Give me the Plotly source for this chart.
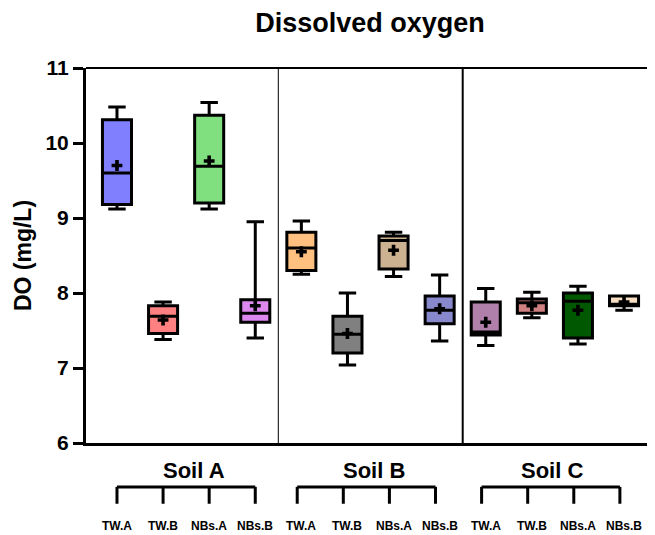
import plotly.graph_objects as go

# data
soils = ["Soil A", "Soil B", "Soil C"]
treatments = ["TW.A", "TW.B", "NBs.A", "NBs.B"]

lower = [9.12, 7.38, 9.12, 7.40, 8.25, 7.04, 8.22, 7.36, 7.30, 7.67, 7.32, 7.77]
q1 = [9.18, 7.46, 9.20, 7.61, 8.30, 7.20, 8.32, 7.59, 7.44, 7.73, 7.40, 7.83]
median = [9.60, 7.69, 9.69, 7.73, 8.60, 7.45, 8.70, 7.77, 7.48, 7.87, 7.89, 7.85]
q3 = [10.31, 7.83, 10.37, 7.91, 8.81, 7.69, 8.76, 7.96, 7.88, 7.92, 8.00, 7.96]
upper = [10.48, 7.88, 10.54, 8.95, 8.96, 8.00, 8.81, 8.24, 8.06, 8.01, 8.09, 7.96]
mean = [9.70, 7.64, 9.76, 7.83, 8.55, 7.46, 8.57, 7.79, 7.61, 7.83, 7.77, 7.88]

colors = ["#8080FF", "#FF8080", "#80E080", "#DD88EE",
          "#FFC080", "#808080", "#CCB290", "#8888CC",
          "#B080AA", "#D08080", "#005800", "#F8DEC2"]

FONT = "Liberation Sans, Arial, sans-serif"
xmin, xmax = -0.672, 11.65
pos = list(range(len(median)))

fig = go.Figure()
for i in pos:
    fig.add_trace(go.Box(
        x=[i], q1=[q1[i]], median=[median[i]], q3=[q3[i]],
        lowerfence=[lower[i]], upperfence=[upper[i]],
        width=0.63, whiskerwidth=0.6, fillcolor=colors[i],
        line=dict(color="black", width=3), boxpoints=False,
        showlegend=False, hoverinfo="skip"))

fig.add_trace(go.Scatter(
    x=pos, y=mean, mode="markers", showlegend=False, hoverinfo="skip",
    marker=dict(symbol="cross", size=9, color="black", line=dict(width=0))))


def px(v):
    return (v - xmin) / (xmax - xmin)


shapes = [
    dict(type="line", xref="x", yref="paper", x0=3.5, x1=3.5, y0=0, y1=1,
         line=dict(color="black", width=1)),
    dict(type="line", xref="x", yref="paper", x0=7.5, x1=7.5, y0=0, y1=1,
         line=dict(color="black", width=2)),
    dict(type="line", xref="paper", yref="paper", x0=0, x1=1, y0=1, y1=1,
         line=dict(color="black", width=2)),
    dict(type="line", xref="paper", yref="paper", x0=0.998, x1=0.998, y0=0, y1=1,
         line=dict(color="black", width=1.5)),
]
annotations = []
bracket_shift = [0.0, -0.09, -0.09]
soil_shift = [0.17, 0.07, -0.06]
for g, soil in enumerate(soils):
    xs = [px(4 * g + k + bracket_shift[g]) for k in range(4)]
    shapes.append(dict(type="line", xref="paper", yref="paper",
                       x0=xs[0], x1=xs[3], y0=-0.117, y1=-0.117,
                       line=dict(color="black", width=3)))
    for xv in xs:
        shapes.append(dict(type="line", xref="paper", yref="paper",
                           x0=xv, x1=xv, y0=-0.117, y1=-0.162,
                           line=dict(color="black", width=3)))
    annotations.append(dict(text="<b>" + soil + "</b>", x=4 * g + 1.5 + soil_shift[g],
                            xref="x", y=-0.072, yref="paper", yanchor="middle",
                            showarrow=False,
                            font=dict(size=22, family=FONT, color="black")))
    for k, t in enumerate(treatments):
        annotations.append(dict(text="<b>" + t + "</b>", x=4 * g + k, xref="x",
                                y=-0.221, yref="paper", yanchor="middle",
                                showarrow=False,
                                font=dict(size=12, family=FONT, color="black")))

# page body has an 8px margin, so the figure is 8px smaller each way
fig.update_layout(
    width=647, height=527,
    margin=dict(l=78, r=1, t=60, b=92),
    plot_bgcolor="white", paper_bgcolor="white",
    title=dict(text="<b>Dissolved oxygen</b>", x=0.5595, xanchor="center",
               y=0.9715, yanchor="middle",
               font=dict(size=27, family=FONT, color="black")),
    xaxis=dict(range=[xmin, xmax], showticklabels=False, ticks="",
               showgrid=False, zeroline=False, showline=True,
               linecolor="black", linewidth=3),
    yaxis=dict(range=[6, 11], dtick=1, ticks="outside", ticklen=10,
               tickwidth=3, tickcolor="black", showgrid=False, zeroline=False,
               showline=True, linecolor="black", linewidth=3,
               tickfont=dict(size=21, family=FONT, color="black", weight="bold"),
               title=dict(text="<b>DO (mg/L)</b>", standoff=8,
                          font=dict(size=23, family=FONT, color="black"))),
    shapes=shapes, annotations=annotations,
)

fig.write_html("out.html")
